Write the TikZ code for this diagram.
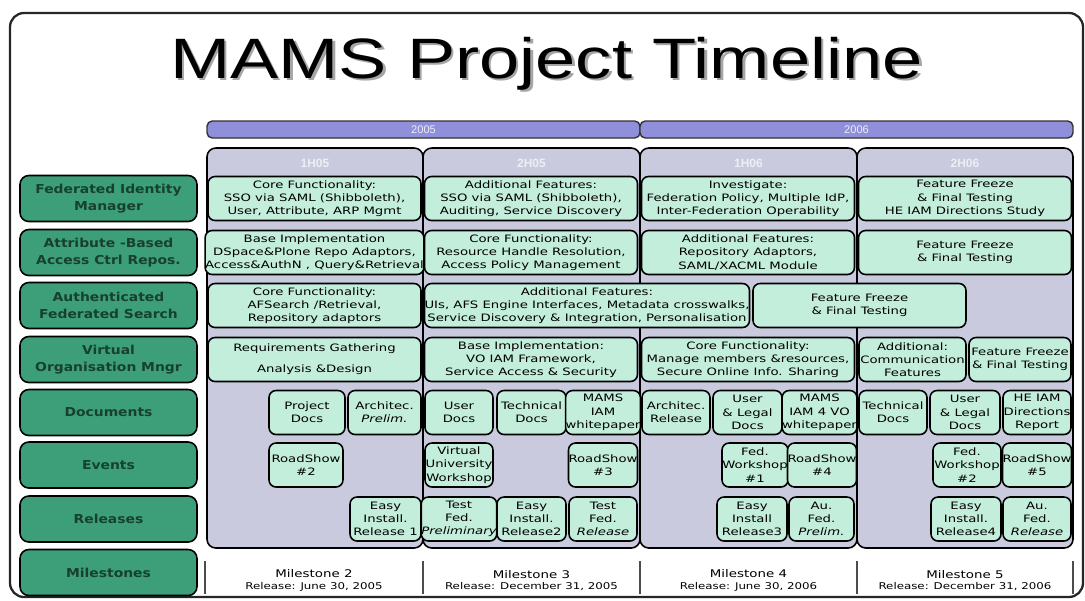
\documentclass[tikz,border=0pt]{standalone}
\usepackage{fontspec}
\setmainfont{DejaVu Sans}
\newfontfamily\titlefont[FakeStretch=1.27]{Liberation Sans}
\newfontfamily\boxfont[FakeStretch=1.3]{DejaVu Sans}
\newfontfamily\msfont[FakeStretch=1.27]{DejaVu Sans}
\newfontfamily\rowfont[FakeStretch=1.13]{DejaVu Sans}
\newfontfamily\headfont{Liberation Sans}

\definecolor{rowgreen}{HTML}{3D9F79}
\definecolor{rowtext}{HTML}{17402F}
\definecolor{mint}{HTML}{C4EEDC}
\definecolor{lavender}{HTML}{CACADE}
\definecolor{periwinkle}{HTML}{8F8FDA}
\definecolor{headtext}{HTML}{EEEEF6}

\tikzset{
	frame/.style={draw=black!85, line width=1.3pt, rounded corners=8pt},
	yearbar/.style={draw=black!80, line width=0.8pt, fill=periwinkle, rounded corners=3pt},
	halfyear/.style={draw=black, line width=0.9pt, fill=lavender, rounded corners=5pt},
	yeartext/.style={text=headtext, font=\headfont\fontsize{6.3}{7}\selectfont, inner sep=0pt},
	halftext/.style={text=headtext, font=\headfont\bfseries\fontsize{6.8}{7}\selectfont, inner sep=0pt},
	rowlabel/.style={draw=black, line width=0.9pt, fill=rowgreen, rounded corners=5pt,
		minimum width=3.54cm, minimum height=0.92cm, inner sep=0pt, align=center,
		text=rowtext, font=\rowfont\bfseries\fontsize{7}{9.8}\selectfont},
	task/.style={draw=black, line width=0.9pt, fill=mint, rounded corners=4pt,
		minimum height=0.88cm, inner sep=0pt, align=center,
		font=\boxfont\fontsize{5.8}{7.55}\selectfont},
	milestone/.style={align=center, inner sep=0pt, font=\msfont\fontsize{5.5}{6.4}\selectfont},
	msline/.style={draw=black!70, line width=0.7pt}
}

\begin{document}
\begin{tikzpicture}[x=0.02cm, y=-0.02cm]
	\useasboundingbox (0,0) rectangle (1085,600);

	% Frame and title:
	\draw[frame] (10,13) rectangle (1083,597);
	\node[anchor=base, text=black!35, font=\titlefont\fontsize{32.4}{36}\selectfont] (titleshadow) at (549,80.5) {MAMS Project Timeline};
	\node[anchor=base, text=black, font=\titlefont\fontsize{32.4}{36}\selectfont] (title) at (546.5,78) {MAMS Project Timeline};

	% Years:
	\draw[yearbar] (207,121) rectangle (640,138);
	\draw[yearbar] (640,121) rectangle (1073,138);
	\node[yeartext] (y2005) at (423.5,129.5) {2005};
	\node[yeartext] (y2006) at (856.5,129.5) {2006};

	% Half years:
	\draw[halfyear] (207,148) rectangle (423,548);
	\draw[halfyear] (423,148) rectangle (640,548);
	\draw[halfyear] (640,148) rectangle (857,548);
	\draw[halfyear] (857,148) rectangle (1073,548);
	\node[halftext] (h1h05) at (315,163) {1H05};
	\node[halftext] (h2h05) at (531.5,163) {2H05};
	\node[halftext] (h1h06) at (748.5,163) {1H06};
	\node[halftext] (h2h06) at (965,163) {2H06};

	% Row labels:
	\node[rowlabel] (lblFIM) at (108.5,198.5) {Federated Identity\\Manager};
	\node[rowlabel] (lblABAC) at (108.5,252.5) {Attribute -Based\\Access Ctrl Repos.};
	\node[rowlabel] (lblAFS) at (108.5,305.5) {Authenticated\\Federated Search};
	\node[rowlabel] (lblVOM) at (108.5,359.5) {Virtual\\Organisation Mngr};
	\node[rowlabel] (lblDocs) at (108.5,412.5) {Documents};
	\node[rowlabel] (lblEvents) at (108.5,465) {Events};
	\node[rowlabel] (lblRel) at (108.5,519) {Releases};
	\node[rowlabel] (lblMs) at (108.5,572.5) {Milestones};

	% Federated Identity Manager:
	\node[task, minimum width=4.26cm] (fim1) at (314.5,198.5) {Core Functionality:\\SSO via SAML (Shibboleth),\\User, Attribute, ARP Mgmt};
	\node[task, minimum width=4.26cm] (fim2) at (531,198.5) {Additional Features:\\SSO via SAML (Shibboleth),\\Auditing, Service Discovery};
	\node[task, minimum width=4.26cm] (fim3) at (748,198.5) {Investigate:\\Federation Policy, Multiple IdP,\\Inter-Federation Operability};
	\node[task, minimum width=4.26cm] (fim4) at (965,198.5) {Feature Freeze\\\& Final Testing\\HE IAM Directions Study};

	% Access Ctrl Repos.:
	\node[task, minimum width=4.26cm] (abac1) at (314.5,252.5) {Base Implementation\\DSpace\&Plone  Repo Adaptors,\\Access\&AuthN , Query\&Retrieval};
	\node[task, minimum width=4.26cm] (abac2) at (531,252.5) {Core Functionality:\\Resource Handle Resolution,\\Access Policy Management};
	\node[task, minimum width=4.26cm] (abac3) at (748,252.5) {Additional Features:\\Repository Adaptors,\\SAML/XACML Module};
	\node[task, minimum width=4.26cm] (abac4) at (965,252.5) {Feature Freeze\\\& Final Testing};

	% Federated Search:
	\node[task, minimum width=4.26cm] (afs1) at (314.5,305.5) {Core Functionality:\\AFSearch /Retrieval,\\Repository adaptors};
	\node[task, minimum width=6.48cm] (afs2) at (587,305.5) {Additional Features:\\UIs, AFS Engine Interfaces, Metadata crosswalks,\\Service Discovery \& Integration, Personalisation};
	\node[task, minimum width=4.26cm] (afs3) at (859.5,305.5) {Feature Freeze\\\& Final Testing};

	% VO Manager:
	\node[task, minimum width=4.26cm] (vom1) at (314.5,359.5) {Requirements Gathering\\[4.4pt]Analysis \&Design};
	\node[task, minimum width=4.26cm] (vom2) at (531,359.5) {Base Implementation:\\VO IAM  Framework,\\Service Access \& Security};
	\node[task, minimum width=4.26cm] (vom3) at (748,359.5) {Core Functionality:\\Manage members \&resources,\\Secure Online Info. Sharing};
	\node[task, minimum width=2.14cm] (vom4) at (912.5,359.5) {Additional:\\Communication\\Features};
	\node[task, minimum width=2.04cm] (vom5) at (1020,359.5) {Feature Freeze\\\& Final Testing};

	% Documents:
	\node[task, minimum width=1.52cm] (doc1) at (307,412.5) {Project\\Docs};
	\node[task, minimum width=1.46cm] (doc2) at (384.5,412.5) {Architec.\\\textit{Prelim.}};
	\node[task, minimum width=1.36cm] (doc3) at (459,412.5) {User\\Docs};
	\node[task, minimum width=1.38cm] (doc4) at (531.5,412.5) {Technical\\Docs};
	\node[task, minimum width=1.36cm] (doc5) at (603,412.5) {MAMS\\IAM\\whitepaper};
	\node[task, minimum width=1.36cm] (doc6) at (676,412.5) {Architec.\\Release};
	\node[task, minimum width=1.38cm] (doc7) at (747.5,412.5) {User\\\& Legal\\Docs};
	\node[task, minimum width=1.38cm] (doc8) at (819.5,412.5) {MAMS\\IAM 4 VO\\whitepaper};
	\node[task, minimum width=1.36cm] (doc9) at (893,412.5) {Technical\\Docs};
	\node[task, minimum width=1.40cm] (doc10) at (965,412.5) {User\\\& Legal\\Docs};
	\node[task, minimum width=1.36cm] (doc11) at (1037,412.5) {HE IAM\\Directions\\Report};

	% Events:
	\node[task, minimum width=1.48cm] (ev1) at (306,465) {RoadShow\\\#2};
	\node[task, minimum width=1.36cm] (ev2) at (459,465) {Virtual\\University\\Workshop};
	\node[task, minimum width=1.36cm] (ev3) at (603,465) {RoadShow\\\#3};
	\node[task, minimum width=1.32cm] (ev4) at (755,465) {Fed.\\Workshop\\\#1};
	\node[task, minimum width=1.28cm] (ev5) at (822,465) {RoadShow\\\#4};
	\node[task, minimum width=1.36cm] (ev6) at (967,465) {Fed.\\Workshop\\\#2};
	\node[task, minimum width=1.36cm] (ev7) at (1037,465) {RoadShow\\\#5};

	% Releases:
	\node[task, minimum width=1.42cm] (rel1) at (385.5,519) {Easy\\Install.\\Release 1};
	\node[task, minimum width=1.36cm] (rel2) at (459,519) {Test\\Fed.\\\textit{Preliminary}};
	\node[task, minimum width=1.38cm] (rel3) at (531.5,519) {Easy\\Install.\\Release2};
	\node[task, minimum width=1.36cm] (rel4) at (603,519) {Test\\Fed.\\\textit{Release}};
	\node[task, minimum width=1.40cm] (rel5) at (752,519) {Easy\\Install\\Release3};
	\node[task, minimum width=1.30cm] (rel6) at (821.5,519) {Au.\\Fed.\\\textit{Prelim.}};
	\node[task, minimum width=1.40cm] (rel7) at (966,519) {Easy\\Install.\\Release4};
	\node[task, minimum width=1.36cm] (rel8) at (1037,519) {Au.\\Fed.\\\textit{Release}};

	% Milestones:
	\draw[msline] (205,561) -- (205,594);
	\draw[msline] (423,561) -- (423,594);
	\draw[msline] (640,561) -- (640,594);
	\draw[msline] (857,561) -- (857,594);
	\draw[msline] (1073,561) -- (1073,594);
	\node[milestone] (ms2) at (314,580.5) {{\fontsize{6}{7}\selectfont Milestone 2}\\{\fontsize{5.3}{6}\selectfont Release: June 30, 2005}};
	\node[milestone] (ms3) at (531.5,580.5) {{\fontsize{6}{7}\selectfont Milestone 3}\\{\fontsize{5.3}{6}\selectfont Release: December 31, 2005}};
	\node[milestone] (ms4) at (748.5,580.5) {{\fontsize{6}{7}\selectfont Milestone 4}\\{\fontsize{5.3}{6}\selectfont Release: June 30, 2006}};
	\node[milestone] (ms5) at (965,580.5) {{\fontsize{6}{7}\selectfont Milestone 5}\\{\fontsize{5.3}{6}\selectfont Release: December 31, 2006}};

\end{tikzpicture}
\end{document}
